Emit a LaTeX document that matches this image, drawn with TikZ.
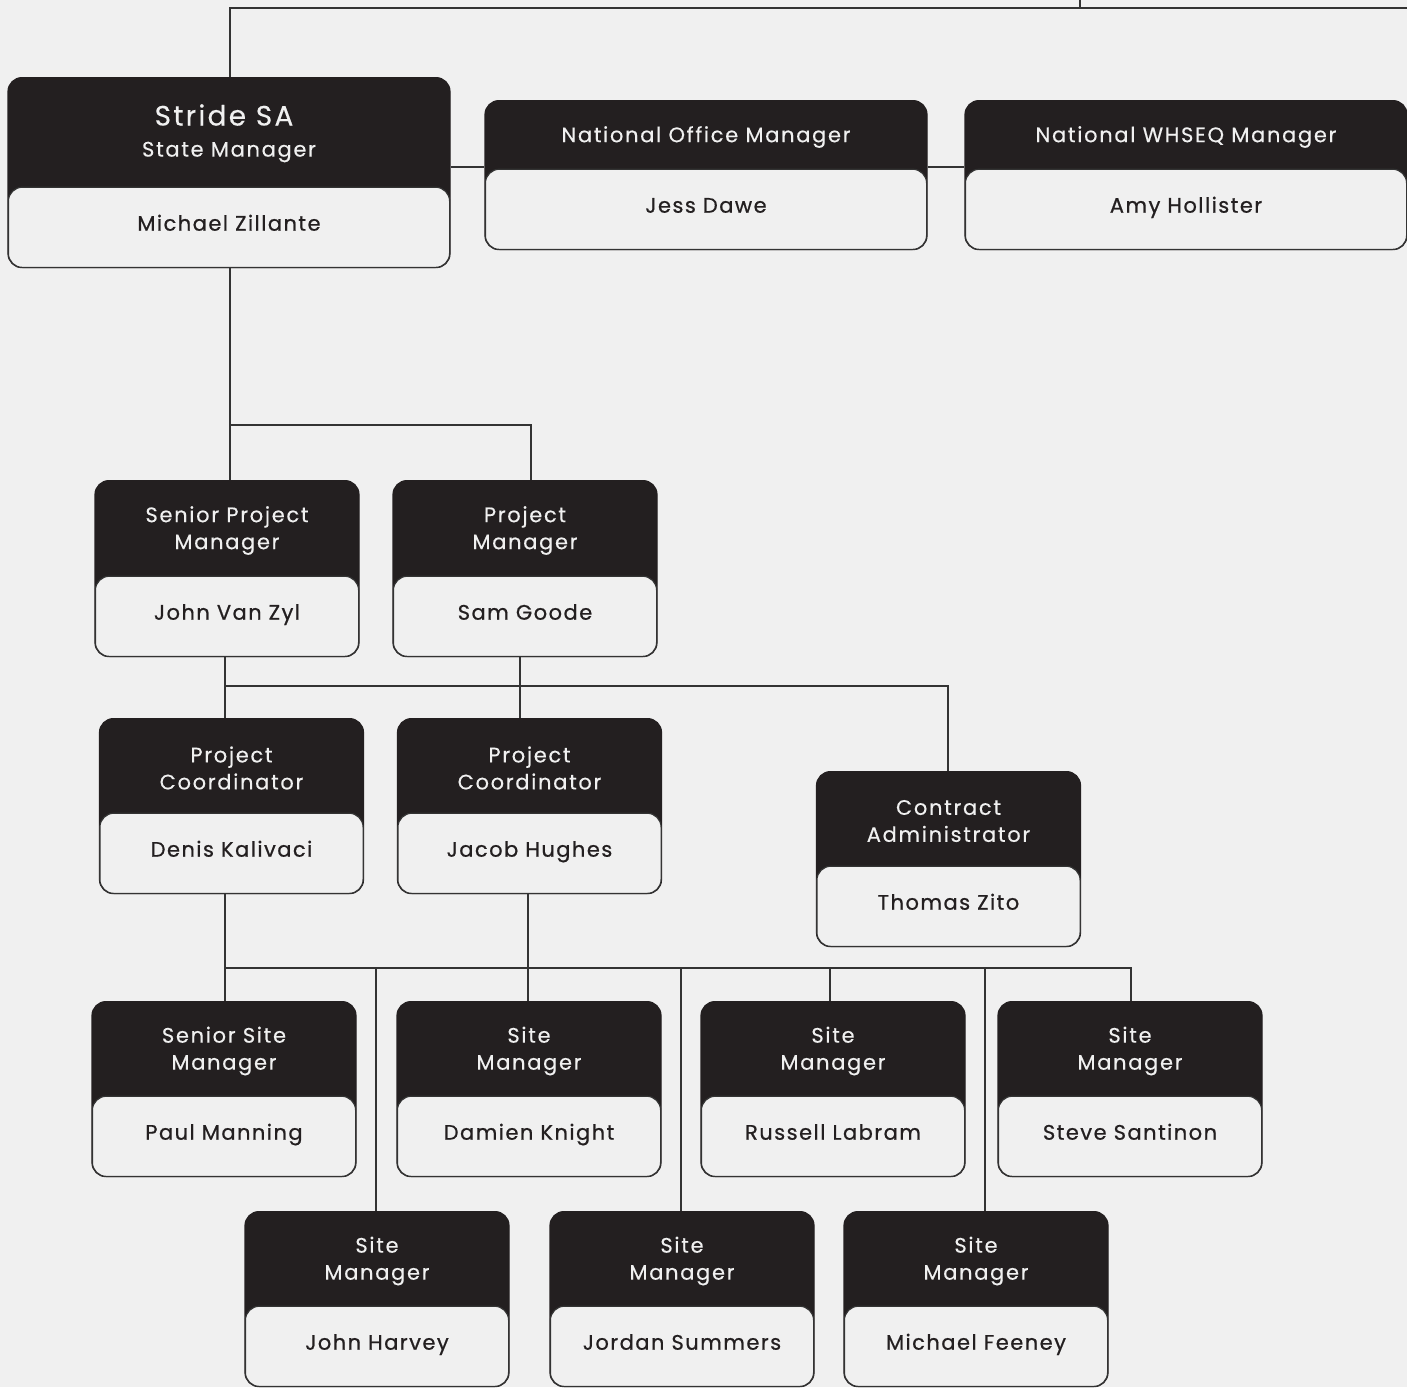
\documentclass[tikz,border=0pt]{standalone}
\usepackage{fontspec}
\setmainfont{Poppins}
\newfontfamily\orgtitlefont{Poppins}[LetterSpace=8,FakeBold=0.3]
\newfontfamily\orgnamefont{Poppins}[LetterSpace=7,FakeBold=0.7]
\definecolor{paper}{HTML}{F0F0F0}
\definecolor{ink}{HTML}{231F20}
\definecolor{linec}{HTML}{333333}
\tikzset{
  orgouter/.style={draw=ink, fill=ink, line width=1.2pt, rounded corners=14pt, inner sep=0pt},
  orgwhite/.style={draw=linec, fill=paper, line width=1.2pt, rounded corners=14pt},
  orgtitle/.style={text=paper, align=center, font=\orgtitlefont\fontsize{21}{27}\selectfont, inner sep=0pt},
  orgname/.style={text=ink, align=center, font=\orgnamefont\fontsize{21}{26}\selectfont, inner sep=0pt, text height=15pt, text depth=0pt},
  conn/.style={draw=linec, line width=1.3pt},
}
\newcommand\orgbox[7]{%
  \pgfmathsetmacro\orgdh{(#5-80)/2+2.5}%
  \node[orgouter, minimum width=#4pt, minimum height=#5pt, anchor=north] (#1) at (#2,#3) {};
  \draw[orgwhite] ([shift={(1pt,0.8pt)}]#1.south west) rectangle ([shift={(-1pt,81pt)}]#1.south east);
  \node[orgtitle] (#1-t) at ([yshift=-\orgdh pt]#1.north) {#6};
  \node[orgname] (#1-n) at ([yshift=45pt]#1.south) {#7};
}
\begin{document}
\begin{tikzpicture}[x=1pt,y=-1pt]
\fill[paper] (0,0) rectangle (1407,1387);
\useasboundingbox (0,0) rectangle (1407,1387);

\coordinate (topL) at (230,8);
\coordinate (topR) at (1407,8);
\coordinate (tickT) at (1080,0);
\coordinate (tickB) at (1080,8);
\coordinate (j1) at (230,425);
\coordinate (j1r) at (531,425);
\coordinate (j2) at (225,686);
\coordinate (j2r) at (948,686);
\coordinate (j3) at (225,968);
\coordinate (j3r) at (1131,968);

% boxes
\orgbox{stride}{229}{77}{442}{190}{}{Michael Zillante}
\node[text=paper, font=\orgtitlefont\fontsize{28}{30}\selectfont, inner sep=0pt] (stride-a) at (224,115) {Stride SA};
\node[text=paper, font=\orgtitlefont\fontsize{21}{24}\selectfont, inner sep=0pt] (stride-b) at (229,152) {State Manager};
\orgbox{natoff}{706}{100}{442}{149}{National Office Manager}{Jess Dawe}
\orgbox{whseq}{1186}{100}{442}{149}{National WHSEQ Manager}{Amy Hollister}

\orgbox{spm}{227}{480}{264}{176}{Senior Project\\Manager}{John Van Zyl}
\orgbox{pm}{525}{480}{264}{176}{Project\\Manager}{Sam Goode}

\orgbox{pc1}{231.5}{718}{264}{175}{Project\\Coordinator}{Denis Kalivaci}
\orgbox{pc2}{529.5}{718}{264}{175}{Project\\Coordinator}{Jacob Hughes}
\orgbox{ca}{948.5}{771}{264}{175}{Contract\\Administrator}{Thomas Zito}

\orgbox{ssm}{224}{1001}{264}{175}{Senior Site\\Manager}{Paul Manning}
\orgbox{dk}{529}{1001}{264}{175}{Site\\Manager}{Damien Knight}
\orgbox{rl}{833}{1001}{264}{175}{Site\\Manager}{Russell Labram}
\orgbox{ss}{1130}{1001}{264}{175}{Site\\Manager}{Steve Santinon}

\orgbox{jh}{377}{1211}{264}{175}{Site\\Manager}{John Harvey}
\orgbox{js}{682}{1211}{264}{175}{Site\\Manager}{Jordan Summers}
\orgbox{mf}{976}{1211}{264}{175}{Site\\Manager}{Michael Feeney}

% connectors
\draw[conn] (stride.north -| topL) -- (topL) -- (topR);
\draw[conn] (tickT) -- (tickB);
\draw[conn] (stride.east |- 0,167) -- (natoff.west |- 0,167);
\draw[conn] (natoff.east |- 0,167) -- (whseq.west |- 0,167);
\draw[conn] (stride.south -| j1) -- (j1) -- (j1r) -- (j1r |- pm.north);
\draw[conn] (j1) -- (j1 |- spm.north);
\draw[conn] (spm.south -| j2) -- (j2 |- pc1.north);
\draw[conn] (j2) -- (j2r) -- (j2r |- ca.north);
\draw[conn] (pm.south -| 520,0) -- (pc2.north -| 520,0);
\draw[conn] (pc1.south -| j3) -- (j3 |- ssm.north);
\draw[conn] (j3) -- (j3r) -- (j3r |- ss.north);
\draw[conn] (pc2.south -| 528,0) -- (dk.north -| 528,0);
\draw[conn] (376,968) -- (jh.north -| 376,0);
\draw[conn] (681,968) -- (js.north -| 681,0);
\draw[conn] (830,968) -- (rl.north -| 830,0);
\draw[conn] (985,968) -- (mf.north -| 985,0);
\end{tikzpicture}
\end{document}
